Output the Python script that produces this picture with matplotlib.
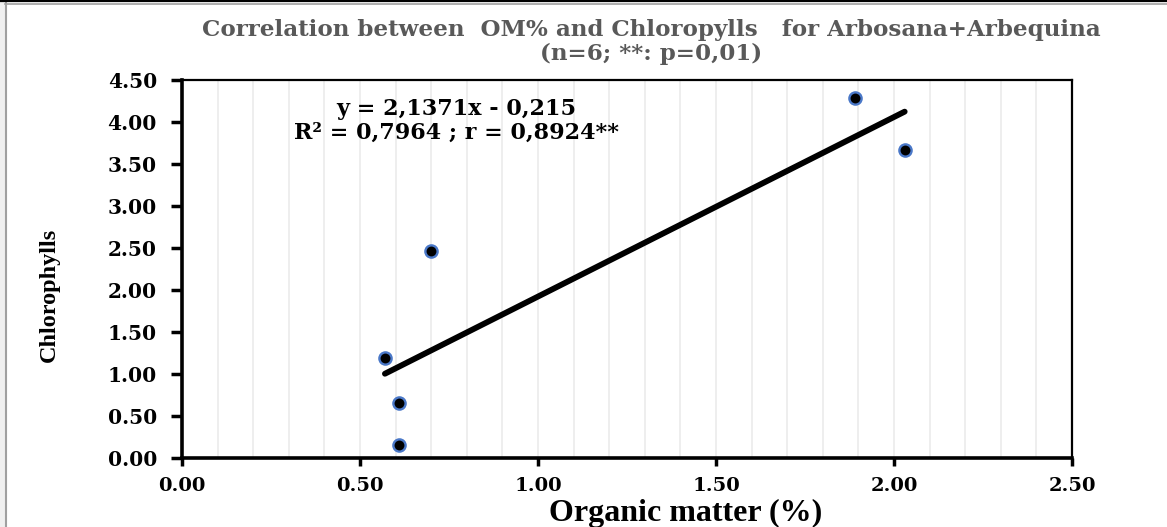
import matplotlib
matplotlib.use("Agg")
import matplotlib.pyplot as plt
from matplotlib.lines import Line2D
from matplotlib.patches import Rectangle
from matplotlib.ticker import MultipleLocator, FormatStrFormatter

# Organic matter (%) and chlorophyll content, Arbosana + Arbequina
organic_matter = [0.57, 0.61, 0.61, 0.70, 1.89, 2.03]
chlorophylls = [1.19, 0.65, 0.16, 2.47, 4.29, 3.67]

# Linear fit as reported
slope = 2.1371
intercept = -0.215
eq_lines = ["y = 2,1371x - 0,215", "R\u00b2 = 0,7964 ; r = 0,8924**"]

title_lines = ["Correlation between  OM% and Chloropylls   for Arbosana+Arbequina",
               "(n=6; **: p=0,01)"]
x_label = "Organic matter (%)"
y_label = "Chlorophylls"

W, H = 1167, 527
fig = plt.figure(figsize=(W / 100, H / 100), dpi=100)

# outer frame of the chart window
fig.patches.append(Rectangle((0, 0), 5 / W, 1, transform=fig.transFigure,
                             facecolor="#f0f0f0", edgecolor="none", zorder=0))
fig.add_artist(Line2D([5.5 / W, 5.5 / W], [0, 1 - 3 / H], transform=fig.transFigure,
                      color="#a0a0a0", lw=1.5))
fig.add_artist(Line2D([0, 1], [1 - 0.8 / H, 1 - 0.8 / H], transform=fig.transFigure,
                      color="black", lw=1.6))
fig.add_artist(Line2D([5 / W, 1], [1 - 3.5 / H, 1 - 3.5 / H], transform=fig.transFigure,
                      color="#a0a0a0", lw=1.2))

ax = fig.add_axes([182 / W, 1 - 458 / H, (1072 - 182) / W, (458 - 80) / H])

ax.set_xlim(0, 2.5)
ax.set_ylim(0, 4.5)
ax.xaxis.set_major_locator(MultipleLocator(0.5))
ax.yaxis.set_major_locator(MultipleLocator(0.5))
ax.xaxis.set_minor_locator(MultipleLocator(0.1))
ax.xaxis.set_major_formatter(FormatStrFormatter("%.2f"))
ax.yaxis.set_major_formatter(FormatStrFormatter("%.2f"))

ax.grid(True, axis="x", which="both", color="#eeeeee", lw=1.4, zorder=0)
ax.tick_params(axis="x", which="minor", length=0)
ax.tick_params(axis="x", which="major", direction="out", length=6, width=2.5, pad=8)
ax.tick_params(axis="y", which="major", direction="out", length=8, width=2.5, pad=10)

for lab in ax.get_xticklabels():
    lab.set_fontfamily("DejaVu Serif")
    lab.set_fontweight("bold")
    lab.set_fontsize(14)
for lab in ax.get_yticklabels():
    lab.set_fontfamily("DejaVu Serif")
    lab.set_fontweight("bold")
    lab.set_fontsize(14.5)

for side in ("left", "bottom"):
    ax.spines[side].set_linewidth(2.6)
for side in ("top", "right"):
    ax.spines[side].set_linewidth(1.6)

# trend line over the observed range
x0, x1 = min(organic_matter), max(organic_matter)
ax.plot([x0, x1], [slope * x0 + intercept, slope * x1 + intercept],
        color="black", lw=4.2, solid_capstyle="round", zorder=3)

ax.plot(organic_matter, chlorophylls, linestyle="none", marker="o",
        markersize=8.8, markerfacecolor="black", markeredgecolor="#4a78c8",
        markeredgewidth=1.7, zorder=4)

ax.text(0.77, 4.01, "\n".join(eq_lines), ha="center", va="center",
        fontfamily="DejaVu Serif", fontweight="bold", fontsize=16,
        linespacing=1.1, zorder=5)

fig.text(651 / W, 1 - 42 / H, "\n".join(title_lines), ha="center", va="center",
         fontfamily="DejaVu Serif", fontweight="bold", fontsize=16.6,
         color="#595959", linespacing=1.1)

ax.set_xlabel(x_label, fontfamily="Liberation Serif", fontweight="bold",
              fontsize=23)
ax.xaxis.set_label_coords((686 - 182) / 890, (458 - 499) / 378)
ax.set_ylabel(y_label, fontfamily="Liberation Serif", fontweight="bold",
              fontsize=17.5)
ax.yaxis.set_label_coords((60 - 182) / 890, (458 - 295) / 378)

fig.savefig("out.png", dpi=100)
